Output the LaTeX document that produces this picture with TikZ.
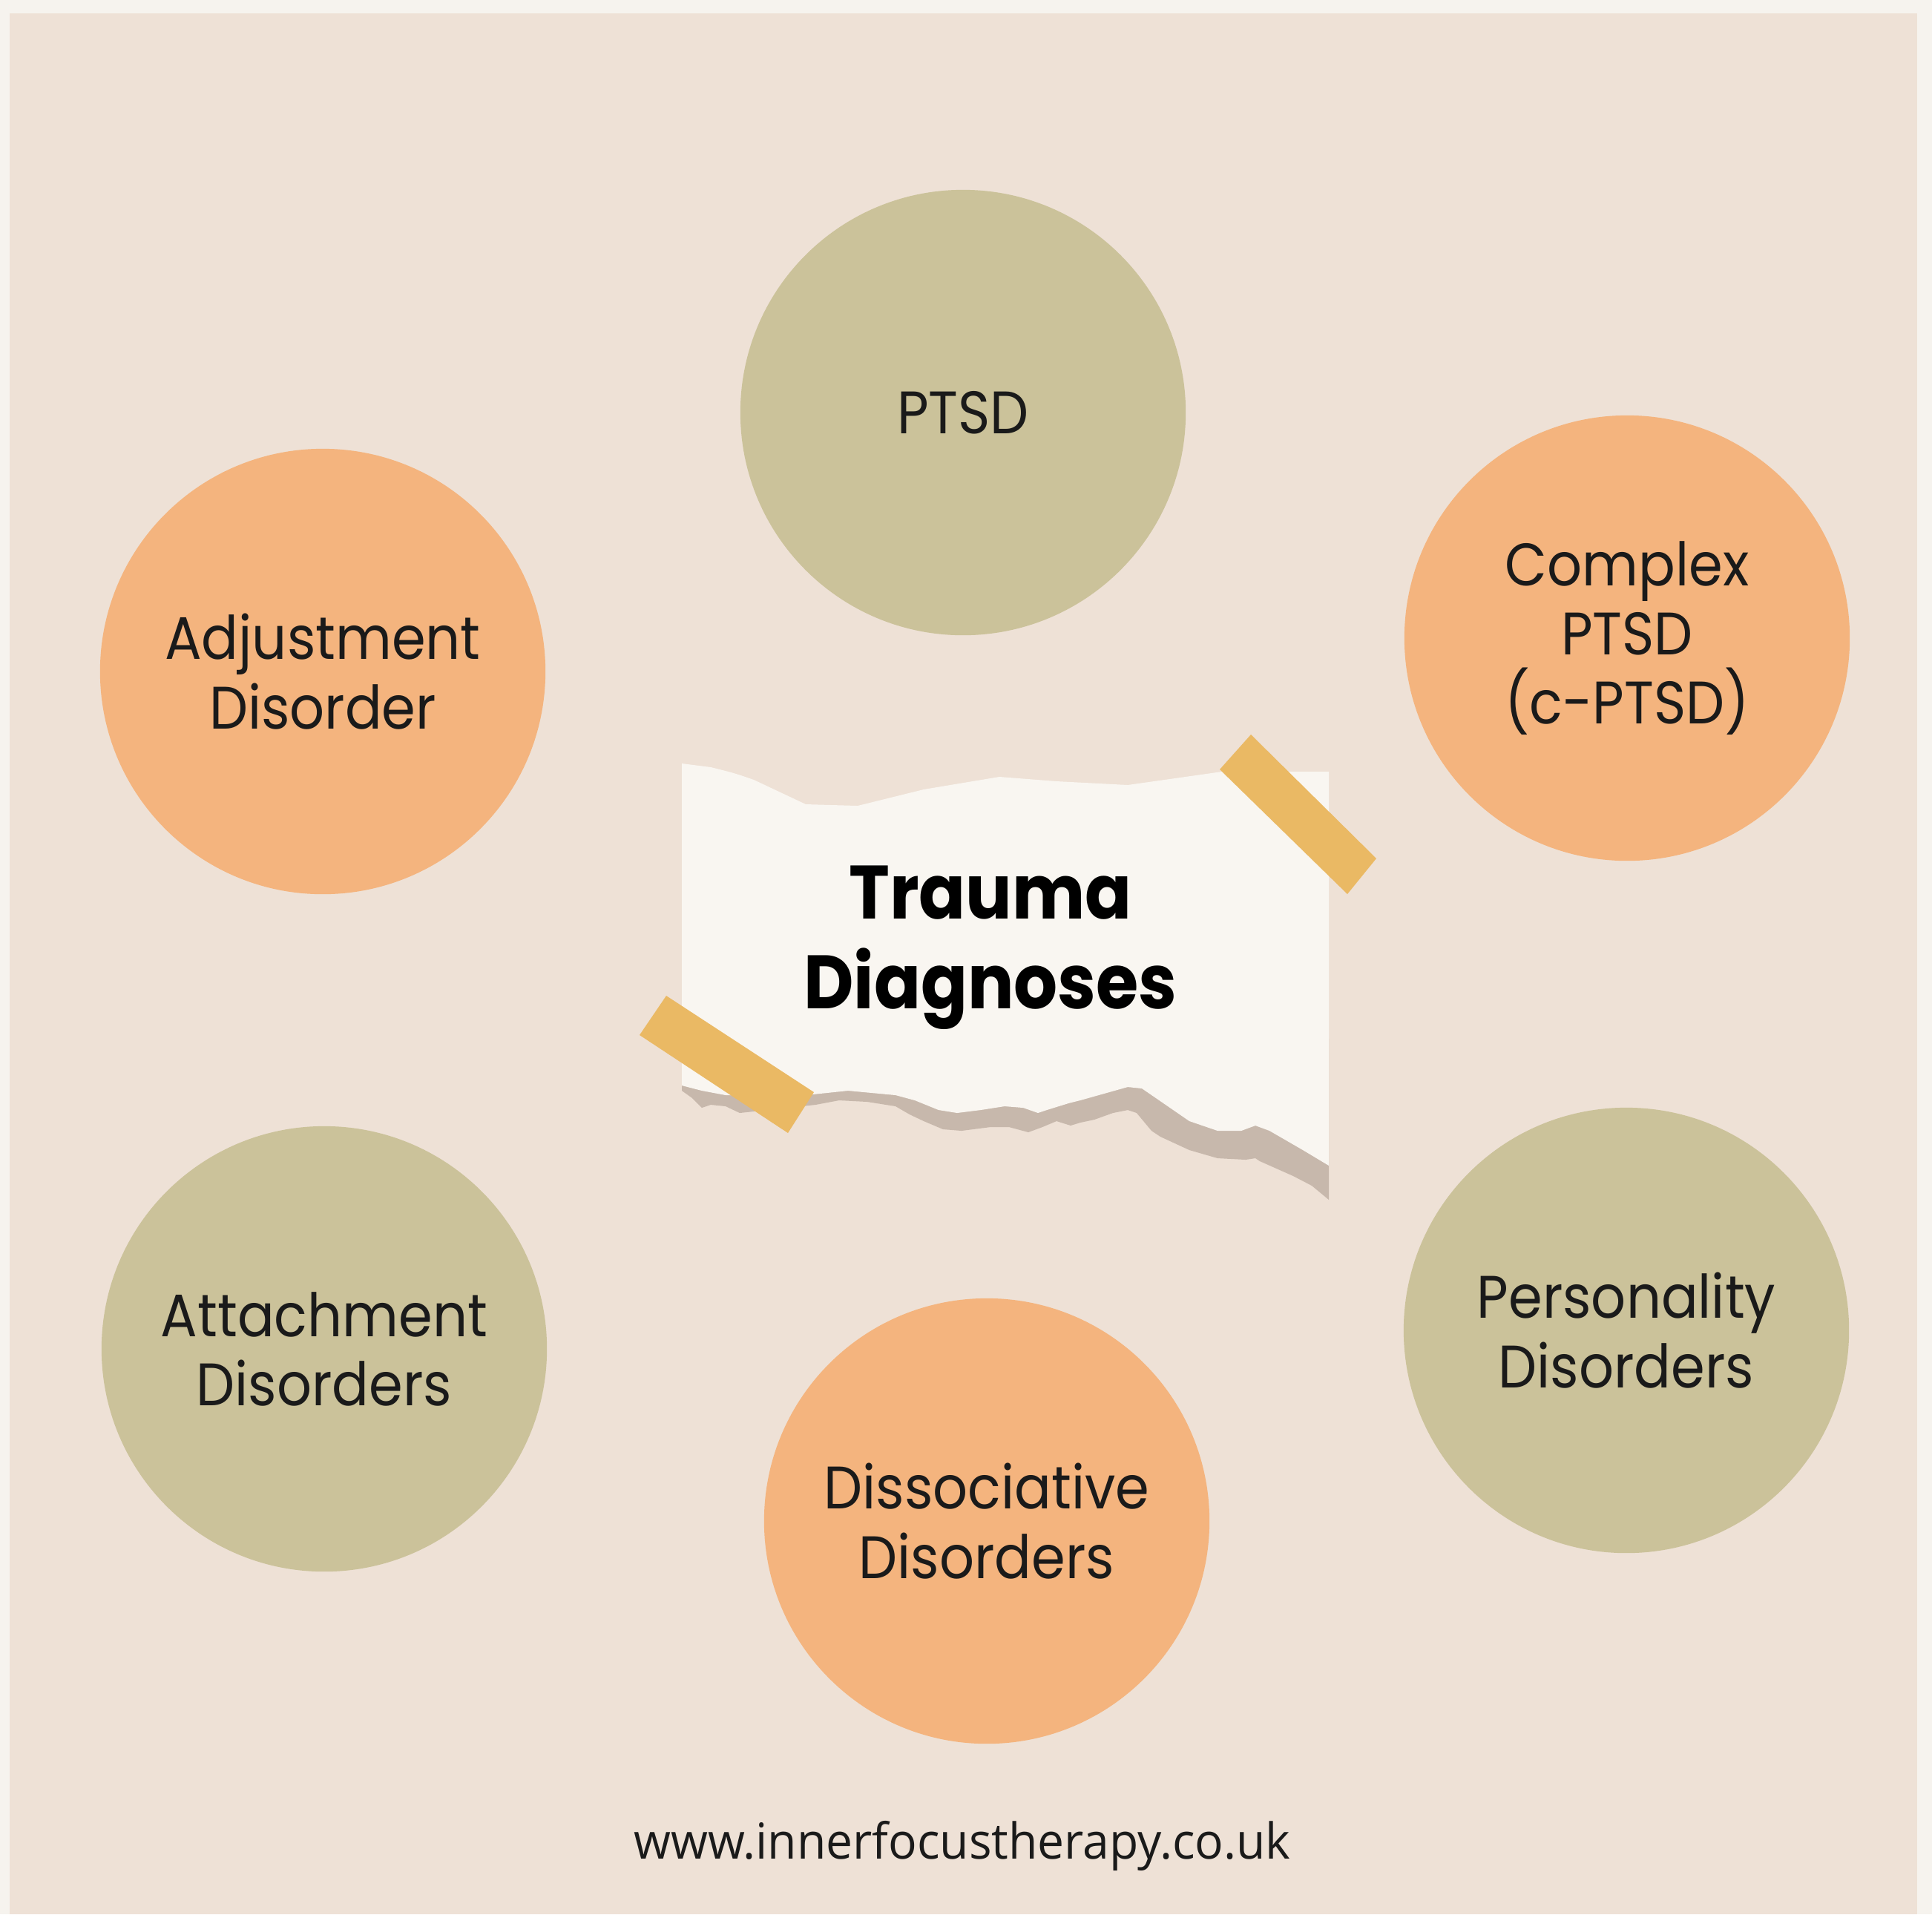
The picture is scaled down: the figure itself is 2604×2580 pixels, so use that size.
\documentclass[tikz,border=0pt]{standalone}
\usepackage{fontspec}
\newfontfamily\popfont[FakeStretch=0.91]{Poppins}
\newfontfamily\urlfont[FakeStretch=0.96]{Open Sans}
\definecolor{outerbg}{HTML}{F6F3EE}
\definecolor{innerbg}{HTML}{EEE1D6}
\definecolor{olive}{HTML}{CBC29A}
\definecolor{peach}{HTML}{F4B47E}
\definecolor{paperwhite}{HTML}{F9F6F1}
\definecolor{papershadow}{HTML}{C7B8AC}
\definecolor{tapeyellow}{HTML}{EAB964}
\definecolor{ink}{HTML}{1A1A1A}
\tikzset{
  bubble/.style={circle, minimum size=6cm, inner sep=0pt, text=ink, align=center,
    font=\popfont\fontsize{23}{26.5}\selectfont},
  olivebubble/.style={bubble, fill=olive},
  peachbubble/.style={bubble, fill=peach},
  tapestrip/.style={fill=tapeyellow},
}
\begin{document}
\begin{tikzpicture}[x=0.01cm, y=-0.01cm]
\useasboundingbox (0,0) rectangle (2604,2580);
\fill[outerbg] (0,0) rectangle (2604,2580);
\fill[innerbg] (13,18) rectangle (2584,2580);

% circles
\node[olivebubble] (ptsd) at (1298,556) {PTSD};
\node[peachbubble] (cptsd) at (2193,860) {Complex\\PTSD\\(c-PTSD)};
\node[peachbubble] (adjust) at (435,905) {Adjustment\\Disorder};
\node[olivebubble] (attach) at (437,1818) {Attachment\\Disorders};
\node[peachbubble] (dissoc) at (1330,2050) {Dissociative\\Disorders};
\node[olivebubble] (person) at (2192,1793) {Personality\\Disorders};

% paper shadow
\fill[papershadow] (919,1400) -- (919,1470) -- (933,1480) -- (946,1493) -- (958,1489) -- (978,1491) -- (997,1500)
  -- (1099,1489) -- (1131,1483) -- (1169,1485) -- (1207,1491) -- (1226,1502) -- (1245,1511) -- (1271,1522)
  -- (1296,1524) -- (1335,1519) -- (1360,1519) -- (1386,1526) -- (1405,1519) -- (1424,1511) -- (1443,1517)
  -- (1456,1513) -- (1475,1509) -- (1500,1500) -- (1520,1496) -- (1532,1500) -- (1552,1524) -- (1564,1532)
  -- (1603,1550) -- (1641,1561) -- (1679,1563) -- (1692,1561) -- (1698,1565) -- (1743,1585) -- (1768,1598)
  -- (1791,1617) -- (1791,1400) -- cycle;
% paper
\fill[paperwhite] (919,1029) -- (958,1034) .. controls (990,1042) .. (1016,1051) -- (1086,1084) -- (1156,1086)
  .. controls (1200,1075) .. (1245,1064) -- (1347,1047) -- (1424,1053) -- (1520,1058) -- (1647,1040) -- (1791,1040) -- (1791,1571)
  -- (1756,1550) -- (1711,1524) -- (1692,1517) -- (1673,1524) -- (1641,1524) -- (1603,1511) -- (1558,1480)
  -- (1539,1467) -- (1520,1465) -- (1488,1474) -- (1456,1483) -- (1440,1487) -- (1411,1496) -- (1399,1500)
  -- (1379,1493) -- (1354,1491) -- (1322,1496) -- (1290,1500) -- (1265,1496) -- (1233,1483) -- (1207,1476)
  -- (1143,1470) -- (1105,1474) -- (1086,1476) -- (1009,1476) -- (978,1476) -- (946,1470) -- (919,1463) -- cycle;
% tapes
\fill[tapestrip] (1686,990) -- (1644,1037) -- (1816,1205) -- (1855,1157) -- cycle;
\fill[tapestrip] (898,1342) -- (862,1395) -- (1062,1527) -- (1097,1472) -- cycle;

\node[text=black, align=center, font=\popfont\bfseries\fontsize{29}{34.5}\selectfont] (title) at (1335,1277) {Trauma\\Diagnoses};

\node[text=ink, font=\urlfont\fontsize{19}{22}\selectfont] (url) at (1297,2488) {www.innerfocustherapy.co.uk};
\end{tikzpicture}
\end{document}
